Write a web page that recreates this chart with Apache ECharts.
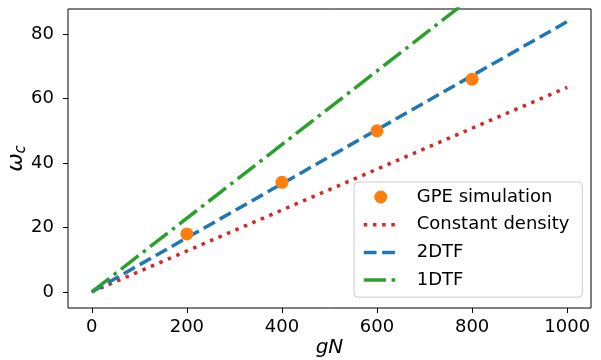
<!DOCTYPE html>
<html>
<head>
<meta charset="utf-8">
<script src="https://cdn.jsdelivr.net/npm/echarts@6/dist/echarts.min.js"></script>
<style>html,body{margin:0;padding:0;background:#fff}#c{width:601px;height:360px}</style>
</head>
<body>
<div id="c"></div>
<script>
// Data
var xTicks = [0, 200, 400, 600, 800, 1000];
var yTicks = [0, 20, 40, 60, 80];
var gpeX = [200, 400, 600, 800];
var gpeY = [18, 34, 50, 66];
var lineX = [0, 1000];
var constDensityY = [0, 63.5];
var tf2Y = [0, 83.9];
var tf1Y = [0, 114.3];
var seriesNames = ['GPE simulation', 'Constant density', '2DTF', '1DTF'];

function pairs(xs, ys) { return xs.map(function (x, i) { return [x, ys[i]]; }); }

var chart = echarts.init(document.getElementById('c'), null, {renderer: 'canvas'});
var font = 'DejaVu Sans';
chart.setOption({
  animation: false,
  backgroundColor: '#fff',
  grid: {left: 68, right: 10, top: 9, bottom: 52, containLabel: false, outerBoundsMode: 'none',
         show: true, borderColor: '#000', borderWidth: 1, backgroundColor: 'transparent'},
  xAxis: {
    type: 'value', min: -50, max: 1050,
    splitLine: {show: false},
    axisLine: {show: false, onZero: false},
    axisTick: {show: true, length: 5, lineStyle: {color: '#000', width: 1}, customValues: xTicks},
    axisLabel: {color: '#000', fontSize: 18, fontFamily: font, margin: 10, customValues: xTicks,
                formatter: function (v) { return String(v); }},
    name: 'gN', nameLocation: 'middle', nameGap: 30, nameMoveOverlap: false,
    nameTextStyle: {fontSize: 20, fontStyle: 'italic', fontFamily: font, color: '#000'}
  },
  yAxis: {
    type: 'value', min: -5, max: 87.8,
    splitLine: {show: false},
    axisLine: {show: false, onZero: false},
    axisTick: {show: true, length: 5, lineStyle: {color: '#000', width: 1}, customValues: yTicks},
    axisLabel: {color: '#000', fontSize: 18, fontFamily: font, margin: 14, customValues: yTicks,
                formatter: function (v) { return String(v); }},
    name: '{w|ω}{c|c}', nameLocation: 'middle', nameGap: 31, nameRotate: 90, nameMoveOverlap: false,
    nameTextStyle: {
      color: '#000',
      rich: {
        w: {fontSize: 22, fontStyle: 'italic', fontFamily: font, color: '#000', lineHeight: 22, verticalAlign: 'top'},
        c: {fontSize: 15, fontStyle: 'italic', fontFamily: font, color: '#000', lineHeight: 32}
      }
    }
  },
  legend: {
    orient: 'vertical', left: 354, top: 182,
    data: [
      {name: seriesNames[0]},
      {name: seriesNames[1], itemStyle: {opacity: 0}, lineStyle: {width: 3.5}},
      {name: seriesNames[2], itemStyle: {opacity: 0}, lineStyle: {width: 3.5}},
      {name: seriesNames[3], itemStyle: {opacity: 0}, lineStyle: {width: 3.5}}
    ],
    itemWidth: 34, itemHeight: 13, itemGap: 9.7,
    padding: [6, 13, 8, 8],
    backgroundColor: 'rgba(255,255,255,0.8)',
    borderColor: '#cccccc', borderWidth: 1, borderRadius: 4,
    textStyle: {fontSize: 18, fontFamily: font, color: '#000', padding: [0, 0, 0, 14], lineHeight: 18}
  },
  series: [
    {
      name: 'Constant density', type: 'line', data: pairs(lineX, constDensityY),
      symbol: 'none', z: 2,
      lineStyle: {color: '#d62728', width: 3.5, type: [3.5, 5.7], cap: 'butt'},
      itemStyle: {color: '#d62728'}
    },
    {
      name: '2DTF', type: 'line', data: pairs(lineX, tf2Y),
      symbol: 'none', z: 2,
      lineStyle: {color: '#1f77b4', width: 3.5, type: [12.8, 5.6], cap: 'butt'},
      itemStyle: {color: '#1f77b4'}
    },
    {
      name: '1DTF', type: 'line', data: pairs(lineX, tf1Y),
      symbol: 'none', z: 2, clip: true,
      lineStyle: {color: '#2ca02c', width: 3.5, type: [22.2, 5.6, 3.5, 5.6], cap: 'butt'},
      itemStyle: {color: '#2ca02c'}
    },
    {
      name: 'GPE simulation', type: 'scatter', data: pairs(gpeX, gpeY),
      symbol: 'circle', symbolSize: 13, z: 3,
      itemStyle: {color: '#ff7f0e', opacity: 1}
    }
  ]
});
</script>
</body>
</html>
